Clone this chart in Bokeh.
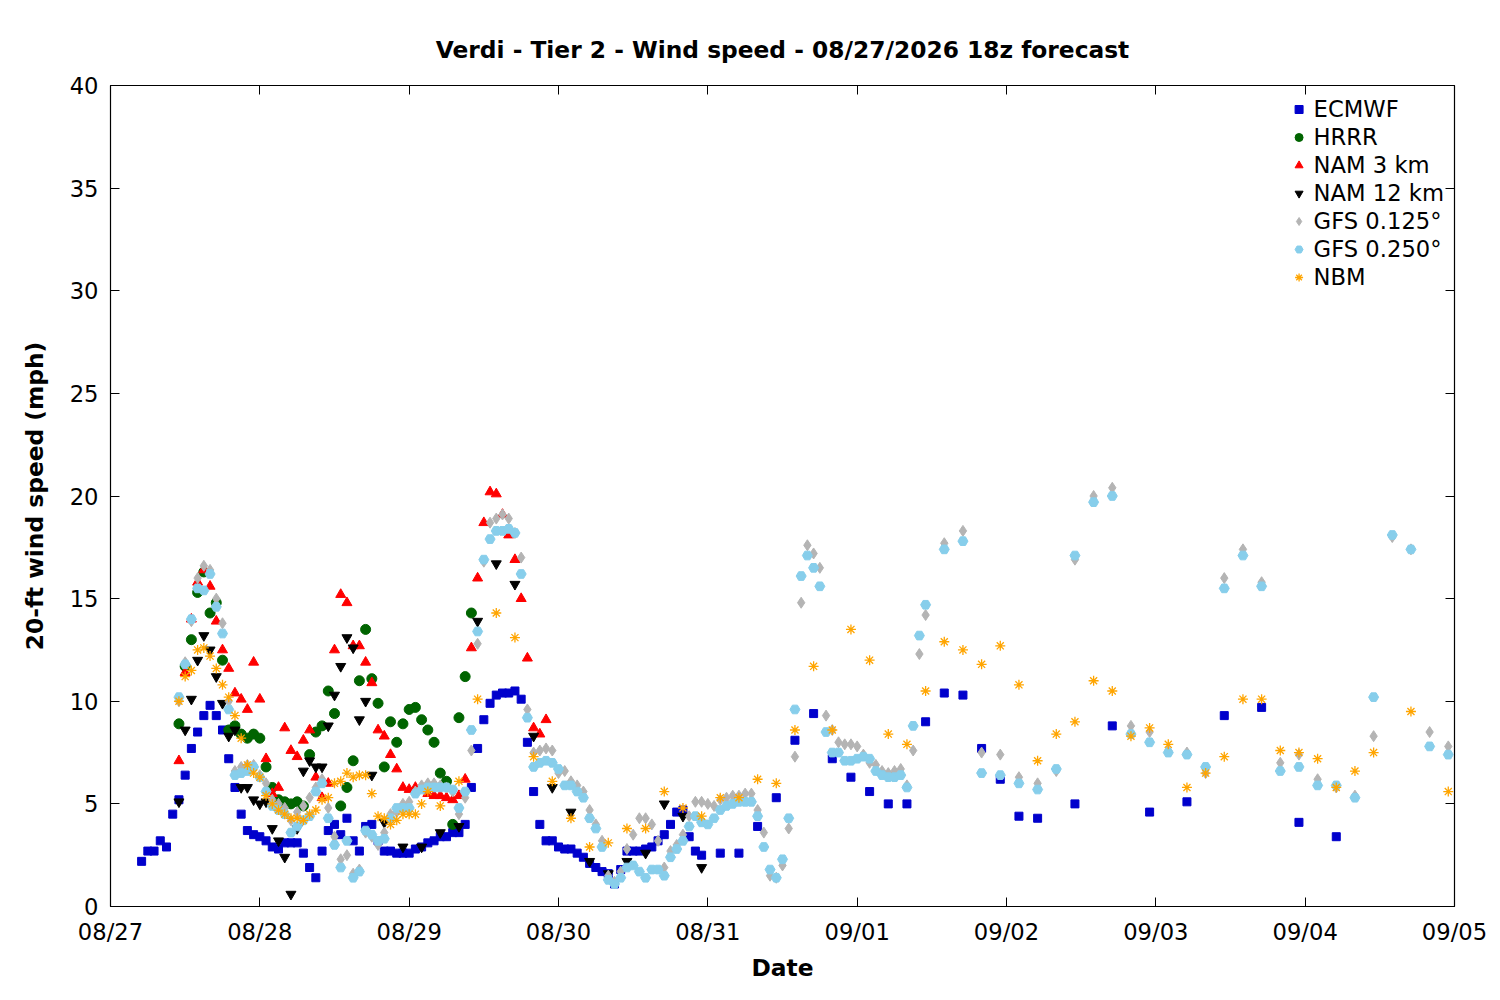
from bokeh.plotting import figure
from bokeh.models import LinearAxis, FixedTicker, Range1d, Legend, LegendItem
from bokeh.embed import file_html
from bokeh.resources import INLINE

day_labels = ["08/27","08/28","08/29","08/30","08/31","09/01","09/02","09/03","09/04","09/05"]

ecmwf_hourly = [2.2,2.7,2.7,3.2,2.9,4.5,5.2,6.4,7.7,8.5,9.3,9.8,9.3,8.6,7.2,5.8,4.5,3.7,3.5,3.4,3.2,2.9,2.8,3.1,3.1,3.1,2.6,1.9,1.4,2.7,3.7,4.0,3.5,4.3,3.2,2.7,3.9,4.0,3.2,2.7,2.7,2.6,2.6,2.6,2.8,2.9,3.1,3.2,3.4,3.4,3.6,3.6,4.0,5.8,7.7,9.1,9.9,10.3,10.4,10.4,10.5,10.1,8.0,5.6,4.0,3.2,3.2,2.9,2.8,2.8,2.6,2.4,2.1,1.9,1.7,1.6,1.1,1.8,2.7,2.7,2.7,2.8,2.9,3.2,3.5,4.0,4.6,4.7,3.4,2.7,2.5]
ecmwf_late_hours = [98,101,104,107,110,113,116,119,122,125,128,131,134,137,140,143,146,149,155,161,167,173,179,185,191,197]
ecmwf_late = [2.6,2.6,3.9,5.3,8.1,9.4,7.2,6.3,5.6,5.0,5.0,9.0,10.4,10.3,7.7,6.2,4.4,4.3,5.0,8.8,4.6,5.1,9.3,9.7,4.1,3.4]

hrrr = [8.9,11.7,13.0,15.3,16.3,14.3,14.8,12.0,8.6,8.8,8.4,8.2,8.4,8.2,6.8,5.8,5.2,5.1,5.0,5.1,4.9,7.4,8.5,8.8,10.5,9.4,4.9,5.8,7.1,11.0,13.5,11.1,9.9,6.8,9.0,8.0,8.9,9.6,9.7,9.1,8.6,8.0,6.5,6.1,4.0,9.2,11.2,14.3]

nam3 = [7.1,11.4,14.0,15.8,16.4,15.6,13.9,12.5,11.6,10.4,10.1,9.6,11.9,10.1,7.2,5.5,5.8,8.7,7.6,7.3,8.1,8.6,6.3,5.3,6.0,12.5,15.2,14.8,12.7,12.7,11.9,10.9,8.6,8.3,7.4,6.7,5.8,5.7,5.8,5.7,5.5,5.4,5.4,5.3,5.2,5.4,6.2,12.6,16.0,18.7,20.2,20.1,19.1,18.1,16.9,15.0,12.1,8.7,8.4,9.1]

nam12_hourly = [5.1,8.6,10.1,12.0,13.2,12.5,11.2,9.9,8.3,8.6,5.8,5.8,5.2,5.0,5.1,3.8,3.2,2.4,0.6,3.8,6.6,7.1,6.8,6.8,8.8,10.3,11.7,13.1,12.6,9.1,10.0,6.4]
nam12_late_hours = [44,47,50,53,56,59,62,65,68,71,74,77,80,83,86,89,92,95]
nam12_late = [4.1,2.9,2.9,3.6,3.9,13.9,16.7,15.7,8.3,5.8,4.6,2.2,1.6,2.2,2.6,5.0,4.4,1.9]

gfs025_hourly = [10.2,11.8,14.0,15.5,15.4,16.2,14.6,13.3,9.6,6.4,6.5,6.6,6.8,6.3,5.6,4.9,4.7,4.5,3.6,3.9,4.2,4.4,5.6,6.0,4.3,3.0,1.9,3.2,1.4,1.7,3.7,3.5,3.2,3.3,4.3,4.8,4.8,4.8,5.5,5.7,5.8,5.8,5.8,5.8,5.7,4.8,5.6,8.6,13.4,16.9,17.9,18.3,18.3,18.4,18.2,16.2,9.2,6.8,7.0,7.1,7.0,6.7,5.9,5.9,5.6,5.3,4.3,3.8,2.9,1.3,1.1,1.4,1.9,2.0,1.7,1.4,1.8,1.8,1.5,2.4,2.8,3.2,3.9,4.4,4.1,4.0,4.3,4.7,4.9,5.0,5.1,5.1,5.1,4.4,2.9,1.8,1.4,2.3,4.3,9.6,16.1,17.1,16.5,15.6,8.5,7.5,7.5,7.1,7.1,7.2,7.3,7.2,6.6,6.4,6.3,6.3,6.4,5.8,8.8,13.2,14.7]
gfs025_late_hours = [134,137,140,143,146,149,152,155,158,161,164,167,170,173,176,179,182,185,188,191,194,197,200,203,206,209,212,215]
gfs025_late = [17.4,17.8,6.5,6.4,6.0,5.7,6.7,17.1,19.7,20.0,8.4,8.0,7.5,7.4,6.8,15.5,17.1,15.6,6.6,6.8,5.9,5.9,5.3,10.2,18.1,17.4,7.8,7.4]

gfs0125_hourly = [10.0,11.9,13.9,16.0,16.6,16.4,15.0,13.8,10.0,6.6,6.8,6.9,6.9,6.4,6.0,5.2,5.0,4.8,4.2,4.6,4.9,5.3,5.8,6.2,4.8,3.4,2.3,2.5,1.6,1.8,3.6,3.4,3.0,3.6,4.5,4.6,5.0,5.1,5.6,5.9,6.0,6.0,5.9,5.8,5.6,4.5,5.3,7.6,12.8,16.8,18.7,18.9,19.1,18.9,18.2,17.0,9.6,7.5,7.6,7.7,7.6,6.5,6.6,6.1,5.9,5.6,4.7,4.0,3.2,1.5,1.2,1.7,2.8,3.5,4.3,4.3,4.0,3.2,1.9,2.7,3.0,3.5,4.4,5.1,5.1,5.0,4.9,5.2,5.3,5.4,5.4,5.5,5.5,4.7,3.6,1.5,1.4,2.0,3.8,7.3,14.8,17.6,17.2,16.5,9.3,8.6,8.0,7.9,7.9,7.8,7.4,7.0,6.9,6.6,6.5,6.6,6.7,5.9,7.6,12.3,14.2]
gfs0125_late_hours = gfs025_late_hours
gfs0125_late = [17.7,18.3,7.5,7.4,6.3,6.0,6.6,16.9,20.0,20.4,8.8,8.5,7.6,7.5,6.5,16.0,17.4,15.8,7.0,7.4,6.2,5.8,5.4,8.3,18.0,17.4,8.5,7.8]

nbm_hourly = [10.0,11.2,11.5,12.5,12.6,12.2,11.6,10.8,10.2,9.3,8.2,6.9,6.5,6.3,5.4,5.0,4.7,4.5,4.3,4.3,4.2,4.5,4.7,5.2,5.3,6.0,6.1,6.5,6.3,6.4,6.4,5.5,4.4,4.3,4.0,4.2,4.5,4.5,4.5,5.0,5.6]
nbm_late_hours = [53,56,59,62,65,68,71,74,77,80,83,86,89,92,95,98,101,104,107,110,113,116,119,122,125,128,131,134,137,140,143,146,149,152,155,158,161,164,167,170,173,176,179,182,185,188,191,194,197,200,203,209,215]
nbm_late = [4.9,6.1,10.1,14.3,13.1,7.3,6.1,4.3,2.9,3.1,3.8,3.8,5.6,4.8,4.4,5.3,5.3,6.2,6.0,8.6,11.7,8.6,13.5,12.0,8.4,7.9,10.5,12.9,12.5,11.8,12.7,10.8,7.1,8.4,9.0,11.0,10.5,8.3,8.7,7.9,5.8,6.5,7.3,10.1,10.1,7.6,7.5,7.2,5.8,6.6,7.5,9.5,5.6]

def hrs(start, vals):
    return list(range(start, start + len(vals)))

series = {
    "ECMWF": (hrs(5, ecmwf_hourly) + ecmwf_late_hours, ecmwf_hourly + ecmwf_late),
    "HRRR": (hrs(11, hrrr), hrrr),
    "NAM 3 km": (hrs(11, nam3), nam3),
    "NAM 12 km": (hrs(11, nam12_hourly) + nam12_late_hours, nam12_hourly + nam12_late),
    "GFS 0.125°": (hrs(11, gfs0125_hourly) + gfs0125_late_hours, gfs0125_hourly + gfs0125_late),
    "GFS 0.250°": (hrs(11, gfs025_hourly) + gfs025_late_hours, gfs025_hourly + gfs025_late),
    "NBM": (hrs(11, nbm_hourly) + nbm_late_hours, nbm_hourly + nbm_late),
}
styles = {
    "ECMWF": ("square", "#0000cc", 8),
    "HRRR": ("circle", "#006400", 10),
    "NAM 3 km": ("triangle", "#ff0000", 10),
    "NAM 12 km": ("inverted_triangle", "#000000", 10),
    "GFS 0.125°": ("diamond", "#b4b4b4", 11),
    "GFS 0.250°": ("hex", "#87ceeb", 10),
    "NBM": ("asterisk", "#ffa500", 10),
}
FONT = "DejaVu Sans"

p = figure(width=1490, height=984, output_backend="svg", toolbar_location=None,
           x_range=Range1d(0, 216), y_range=Range1d(0, 40),
           min_border_left=110, min_border_right=36, min_border_top=85, min_border_bottom=75)
p.title.text = "Verdi - Tier 2 - Wind speed - 08/27/2026 18z forecast"
p.title.align = "center"
p.title.text_font = FONT
p.title.text_font_size = "17.5pt"
p.title.text_font_style = "bold"
p.title.text_color = "black"
p.title.standoff = 43
p.grid.visible = False
p.outline_line_color = "black"
p.outline_line_width = 1.2
p.background_fill_color = "white"

items = []
for name, (xs, ys) in series.items():
    m, c, s = styles[name]
    if m == "asterisk":
        r = p.scatter(xs, ys, marker=m, size=s, line_color=c, line_width=1.3)
    else:
        r = p.scatter(xs, ys, marker=m, size=s, fill_color=c, line_color=c)
    items.append(LegendItem(label=name, renderers=[r]))

ticks = list(range(0, 217, 24))
p.xaxis.ticker = FixedTicker(ticks=ticks)
p.xaxis.major_label_overrides = {t: l for t, l in zip(ticks, day_labels)}
p.yaxis.ticker = FixedTicker(ticks=list(range(0, 41, 5)))
for ax in [p.xaxis[0], p.yaxis[0]]:
    ax.major_tick_in = 9
    ax.major_tick_out = 0
    ax.minor_tick_line_color = None
    ax.major_label_text_font = FONT
    ax.major_label_text_font_size = "17pt"
    ax.major_label_text_color = "black"
    ax.axis_label_text_font = FONT
    ax.axis_label_text_font_size = "17.5pt"
    ax.axis_label_text_font_style = "bold"
    ax.axis_label_text_color = "black"
    ax.axis_line_color = None
p.xaxis.axis_label = "Date"
p.yaxis.axis_label = "20-ft wind speed (mph)"
p.xaxis.major_label_standoff = 12
p.xaxis.axis_label_standoff = 6
p.yaxis.major_label_standoff = 12
p.yaxis.axis_label_standoff = 18

for loc, tk in [("above", ticks), ("right", list(range(0, 41, 5)))]:
    ax = LinearAxis(ticker=FixedTicker(ticks=tk), major_label_text_color=None,
                    major_label_text_font_size="1pt",
                    major_tick_in=9, major_tick_out=0, minor_tick_line_color=None,
                    axis_line_color=None, major_label_standoff=0)
    p.add_layout(ax, loc)

leg = Legend(items=items, location="top_right", border_line_color=None,
             background_fill_alpha=0, label_text_font=FONT, label_text_font_size="17pt",
             label_text_color="black", label_height=28, spacing=0, glyph_width=20,
             glyph_height=24, margin=10)
p.add_layout(leg)

open("out.html", "w").write(file_html(p, INLINE))
